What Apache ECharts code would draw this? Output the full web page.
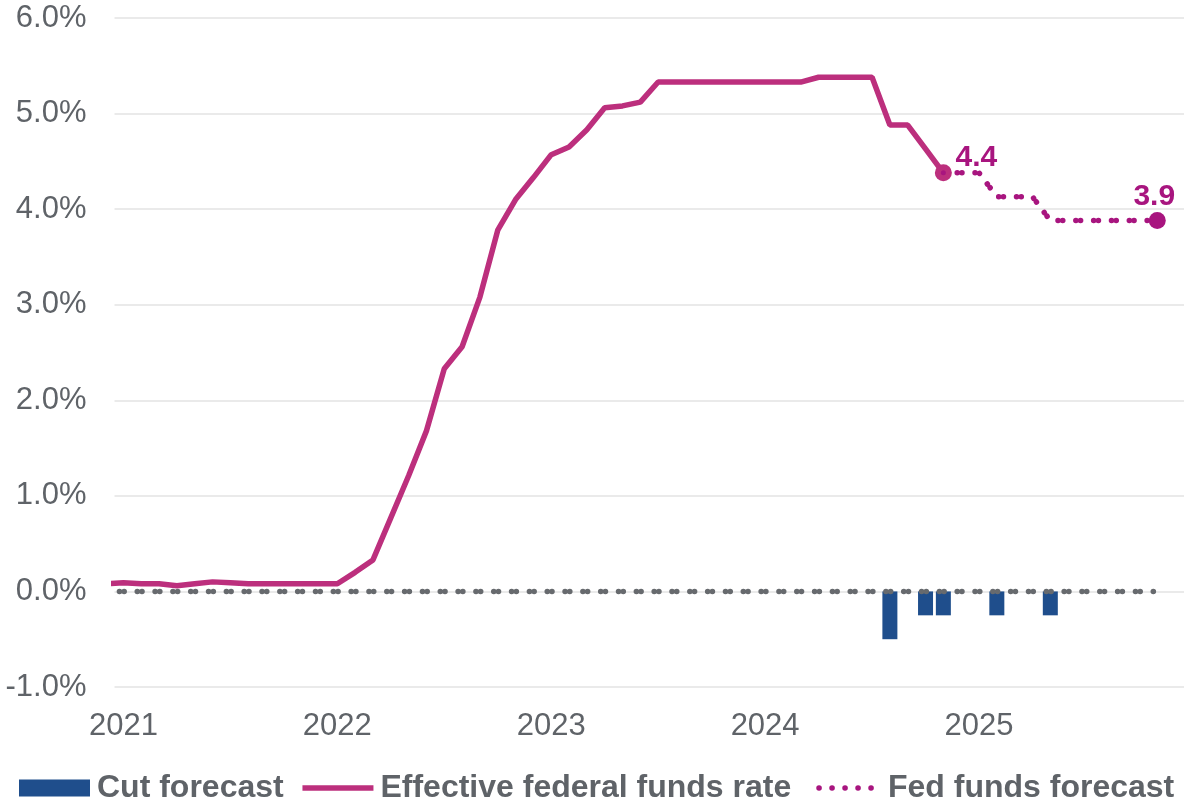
<!DOCTYPE html>
<html>
<head>
<meta charset="utf-8">
<script src="https://cdn.jsdelivr.net/npm/echarts@6/dist/echarts.min.js"></script>
<style>
html,body{margin:0;padding:0;background:#ffffff;}
#chart{width:1184px;height:803px;}
</style>
</head>
<body>
<div id="chart"></div>
<script>
// ---------------- DATA ----------------
// Effective federal funds rate (%), monthly, starting Dec 2020
const effrStart = '2020-12';
const effrValues = [
  0.08,
  0.09, 0.08, 0.08, 0.06, 0.08, 0.10, 0.09, 0.08, 0.08, 0.08, 0.08, 0.08,
  0.08, 0.20, 0.33, 0.77, 1.21, 1.68, 2.33, 2.56, 3.08, 3.78, 4.10, 4.33,
  4.57, 4.65, 4.83, 5.06, 5.08, 5.12, 5.33, 5.33, 5.33, 5.33, 5.33, 5.33,
  5.33, 5.33, 5.33, 5.38, 5.38, 5.38, 5.38, 4.88, 4.88, 4.63, 4.38
];
// Fed funds forecast (%), monthly, starting Nov 2024
const forecastStart = '2024-11';
const forecastValues = [4.38, 4.38, 4.38, 4.13, 4.13, 4.13, 3.88, 3.88, 3.88, 3.88, 3.88, 3.88, 3.88];
// Cut forecast (percentage points)
const cutMonths = ['2024-08', '2024-10', '2024-11', '2025-02', '2025-05'];
const cutValues = [-0.50, -0.25, -0.25, -0.25, -0.25];
// Zero reference line span
const zeroStart = '2020-12';
const zeroEnd = '2025-11';
// Axis labels
const yearLabels = ['2021', '2022', '2023', '2024', '2025'];
const yMin = -1, yMax = 6, yStep = 1;

// ---------------- HELPERS ----------------
function monthIndex(s) {
  const p = s.split('-').map(Number);
  return (p[0] - 2021) * 12 + (p[1] - 1);
}
const FONT = "'Liberation Sans', Arial, Helvetica, sans-serif";
const GRAY_TEXT = '#5f6368';
const MAGENTA = '#bc2f7d';
const MAGENTA_DARK = '#a8157f';
const BLUE = '#1f4e8c';
const DOT_GRAY = '#676a6e';
const LW = 5.5;

const e0 = monthIndex(effrStart);
const effrData = effrValues.map((v, i) => {
  const item = { value: [e0 + i, v] };
  if (i === effrValues.length - 1) {
    item.symbol = 'circle';
    item.symbolSize = 17;
    item.itemStyle = { color: MAGENTA };
    item.label = {
      show: true, position: 'top', offset: [33, 13],
      formatter: p => p.value[1].toFixed(1),
      fontFamily: FONT, fontSize: 30, fontWeight: 'bold', color: MAGENTA_DARK
    };
  }
  return item;
});

const f0 = monthIndex(forecastStart);
const forecastData = forecastValues.map((v, i) => {
  const item = { value: [f0 + i, v] };
  if (i === 0) {
    item.symbol = 'circle';
    item.symbolSize = 5;
    item.itemStyle = { color: MAGENTA_DARK };
  }
  if (i === forecastValues.length - 1) {
    item.symbol = 'circle';
    item.symbolSize = 17;
    item.itemStyle = { color: MAGENTA_DARK };
    item.label = {
      show: true, position: 'top', offset: [-3, 5],
      formatter: p => p.value[1].toFixed(1),
      fontFamily: FONT, fontSize: 30, fontWeight: 'bold', color: MAGENTA_DARK
    };
  }
  return item;
});

const cutData = cutMonths.map((m, i) => [monthIndex(m), cutValues[i]]);

const zeroData = [];
for (let t = monthIndex(zeroStart); t <= monthIndex(zeroEnd); t++) zeroData.push([t, 0]);

const yearTicks = yearLabels.map(y => monthIndex(y + '-01'));

const DOTS = [0.1, 4.6, 0.1, 13.025];

// ---------------- CHART ----------------
const chart = echarts.init(document.getElementById('chart'), null, { renderer: 'canvas' });
const option = {
  animation: false,
  backgroundColor: '#ffffff',
  textStyle: { fontFamily: FONT },
  grid: { left: 114.5, right: 0, top: 18, bottom: 116, containLabel: false, outerBoundsMode: 'none' },
  xAxis: {
    type: 'value',
    min: -0.5,
    max: 59.5,
    axisLine: { show: false },
    axisTick: { show: false },
    splitLine: { show: false },
    axisLabel: {
      customValues: yearTicks,
      formatter: v => yearLabels[yearTicks.indexOf(Math.round(v))] || '',
      fontFamily: FONT, fontSize: 31, color: GRAY_TEXT, margin: 24
    }
  },
  yAxis: {
    type: 'value',
    min: yMin, max: yMax, interval: yStep,
    axisLine: { show: false },
    axisTick: { show: false },
    splitLine: { lineStyle: { color: '#e3e3e3', width: 1.5 } },
    axisLabel: {
      formatter: v => v.toFixed(1) + '%',
      fontFamily: FONT, fontSize: 31, color: GRAY_TEXT, margin: 28
    }
  },
  legend: {
    data: [
      { name: 'Cut forecast', icon: 'rect' },
      { name: 'Effective federal funds rate', itemStyle: { opacity: 0 },
        lineStyle: { width: LW } },
      { name: 'Fed funds forecast', itemStyle: { opacity: 0 },
        lineStyle: { type: [0.1, 12.9], cap: 'round', width: LW } }
    ],
    left: 19, top: 772, padding: 0,
    itemWidth: 71, itemHeight: 17, itemGap: 16,
    textStyle: { fontFamily: FONT, fontSize: 32, fontWeight: 'bold', color: GRAY_TEXT, padding: [0, 0, 0, 2] }
  },
  series: [
    {
      name: 'Cut forecast', type: 'bar', data: cutData, barWidth: 15,
      itemStyle: { color: BLUE }, silent: true
    },
    {
      name: 'zero', type: 'line', data: zeroData, symbol: 'none', silent: true,
      lineStyle: { color: DOT_GRAY, width: LW, type: DOTS, dashOffset: 4, cap: 'round' }
    },
    {
      name: 'Effective federal funds rate', type: 'line', data: effrData, symbol: 'none',
      itemStyle: { color: MAGENTA },
      lineStyle: { color: MAGENTA, width: LW }
    },
    {
      name: 'Fed funds forecast', type: 'line', data: forecastData, symbol: 'none',
      itemStyle: { color: MAGENTA_DARK },
      lineStyle: { color: MAGENTA_DARK, width: LW, type: DOTS, dashOffset: 4, cap: 'round' }
    }
  ]
};
chart.setOption(option);
</script>
</body>
</html>
